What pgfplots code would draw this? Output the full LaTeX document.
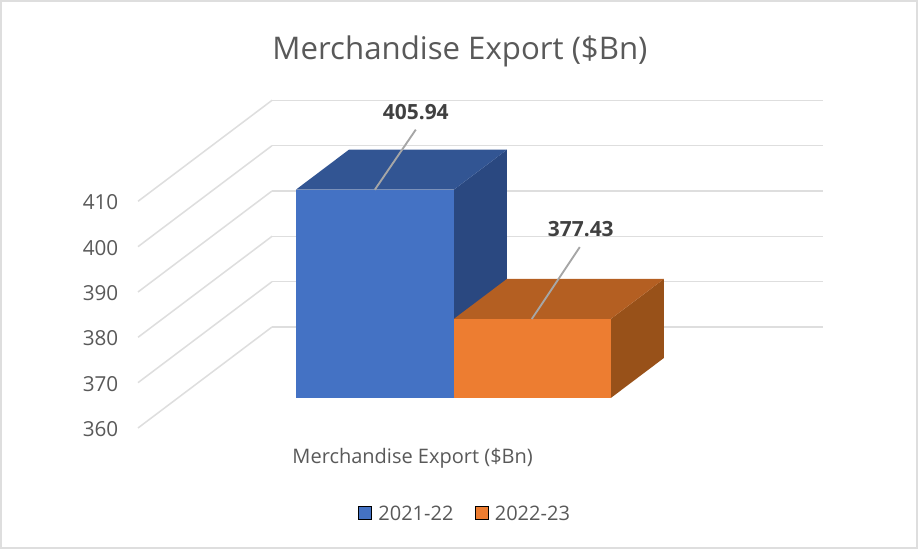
\documentclass[border=0pt]{standalone}
\usepackage{fontspec}
\setmainfont{Open Sans}
\usepackage{pgfplots}
\pgfplotsset{compat=1.18}
\definecolor{txt}{HTML}{595959}
\definecolor{lbl}{HTML}{404040}
\definecolor{gridc}{HTML}{DEDEDE}
\definecolor{bluefront}{HTML}{4472C4}
\definecolor{bluetop}{HTML}{325593}
\definecolor{blueside}{HTML}{2A4880}
\definecolor{orangefront}{HTML}{ED7D31}
\definecolor{orangetop}{HTML}{B45F22}
\definecolor{orangeside}{HTML}{985119}
\begin{document}
\begin{tikzpicture}
% 1px = 0.75pt
\useasboundingbox (0,0) rectangle (688.5pt,411.75pt);
\draw[color=gridc,line width=1.5pt] (0.75pt,0.75pt) rectangle (687.75pt,411pt);
\begin{axis}[
  at={(103.5pt,90.75pt)},anchor=south west,
  x={(0.75pt,0pt)},y={(100.5pt,75.75pt)},z={(0pt,3.4pt)},
  xmin=0,xmax=551,ymin=0,ymax=1,zmin=360,zmax=410,
  clip=false,
  axis line style={draw=none},
  tick style={draw=none},
  xtick={276},xticklabels={Merchandise Export (\$Bn)},
  ytick=\empty,
  ztick={360,370,380,390,400,410},
  zmajorgrids=true,
  grid style={color=gridc,line width=1.15pt},
  tick label style={color=txt},
  xticklabel style={font=\fontsize{15}{18}\selectfont,xshift=4.5pt,yshift=-12pt},
  zticklabel style={font=\fontsize{15.5}{18}\selectfont,xshift=-11.25pt,yshift=4.9pt},
  /pgf/number format/assume math mode=true,
  title={Merchandise Export (\$Bn)},
  title style={at={(axis description cs:0.47,1.124)},anchor=center,color=txt,font=\fontsize{23.4}{28}\selectfont},
  legend columns=2,
  legend style={at={(axis description cs:0.478,-0.262)},anchor=center,draw=none,fill=none,
    text=txt,font=\fontsize{15}{18}\selectfont,
    /tikz/every odd column/.append style={column sep=3pt},
    /tikz/every even column/.append style={column sep=14pt}},
  legend image code/.code={\fill[#1] (0cm,-0.14cm) rectangle (0.34cm,0.2cm);},
]
\addlegendimage{fill=bluefront}
\addlegendentry{2021-22}
\addlegendimage{fill=orangefront}
\addlegendentry{2022-23}
% 2021-22
\addplot3[draw=none,fill=blueside,forget plot] coordinates {(276,0.297,360) (276,0.693,360) (276,0.693,405.94) (276,0.297,405.94)};
\addplot3[draw=none,fill=bluetop,forget plot] coordinates {(118,0.297,405.94) (276,0.297,405.94) (276,0.693,405.94) (118,0.693,405.94)};
\addplot3[draw=none,fill=bluefront,forget plot] coordinates {(118,0.297,360) (276,0.297,360) (276,0.297,405.94) (118,0.297,405.94)};
% 2022-23
\addplot3[draw=none,fill=orangeside,forget plot] coordinates {(433,0.297,360) (433,0.693,360) (433,0.693,377.43) (433,0.297,377.43)};
\addplot3[draw=none,fill=orangetop,forget plot] coordinates {(276,0.297,377.43) (433,0.297,377.43) (433,0.693,377.43) (276,0.693,377.43)};
\addplot3[draw=none,fill=orangefront,forget plot] coordinates {(276,0.297,360) (433,0.297,360) (433,0.297,377.43) (276,0.297,377.43)};
% leader lines
\addplot3[color=gray!70,line width=1.4pt,forget plot] coordinates {(197,0.297,405.94) (238,0.297,419.2)};
\addplot3[color=gray!70,line width=1.4pt,forget plot] coordinates {(354,0.297,377.43) (402,0.297,393.3)};
\node[font=\bfseries\fontsize{15.7}{18}\selectfont,color=lbl] at (axis cs:238,0.297,423.1) {405.94};
\node[font=\bfseries\fontsize{15.7}{18}\selectfont,color=lbl] at (axis cs:403,0.297,397.3) {377.43};
\end{axis}
\end{tikzpicture}
\end{document}
